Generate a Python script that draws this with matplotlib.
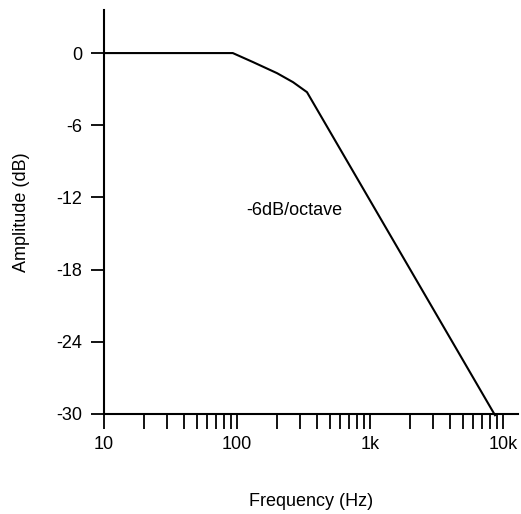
import matplotlib
matplotlib.use("Agg")
import matplotlib.pyplot as plt
from matplotlib.ticker import FixedLocator, FixedFormatter, NullFormatter

plt.rcParams['font.family'] = ['Liberation Sans', 'DejaVu Sans']

freq_hz = [10, 93, 132, 200, 264, 336, 8710]
amp_db = [0, 0, -0.75, -1.67, -2.42, -3.25, -30.1]

major_ticks = [10, 100, 1000, 10000]
major_labels = ["10", "100", "1k", "10k"]
minor_ticks = [m * d for d in (10, 100, 1000) for m in range(2, 10)]
y_ticks = [0, -6, -12, -18, -24, -30]
y_labels = ["0", "-6", "-12", "-18", "-24", "-30"]

fig = plt.figure(figsize=(5.21, 5.14), dpi=100)
ax = fig.add_axes([104/521, 1 - 414/514, 414/521, 404/514])

ax.plot(freq_hz, amp_db, color='black', lw=1.5, solid_joinstyle='miter', clip_on=False)
ax.set_xscale('log')
ax.set_xlim(10, 12970)
ax.set_ylim(-30, 3.58)

ax.xaxis.set_major_locator(FixedLocator(major_ticks))
ax.xaxis.set_major_formatter(FixedFormatter(major_labels))
ax.xaxis.set_minor_locator(FixedLocator(minor_ticks))
ax.xaxis.set_minor_formatter(NullFormatter())
ax.set_yticks(y_ticks)
ax.set_yticklabels(y_labels)

for s in ('top', 'right'):
    ax.spines[s].set_visible(False)
for s in ('left', 'bottom'):
    ax.spines[s].set_linewidth(1.5)

ax.tick_params(axis='x', which='both', direction='out', length=10.5, width=1.3,
               labelsize=13, pad=5)
ax.tick_params(axis='y', which='major', direction='out', length=9.5, width=1.3,
               labelsize=13, pad=6)

ax.text(117, -13.1, "-6dB/octave", fontsize=13, ha='left', va='center')

ax.set_xlabel("Frequency (Hz)", fontsize=13, labelpad=29)
ax.set_ylabel("Amplitude (dB)", fontsize=13, labelpad=19)

fig.savefig("out.png", dpi=100)
